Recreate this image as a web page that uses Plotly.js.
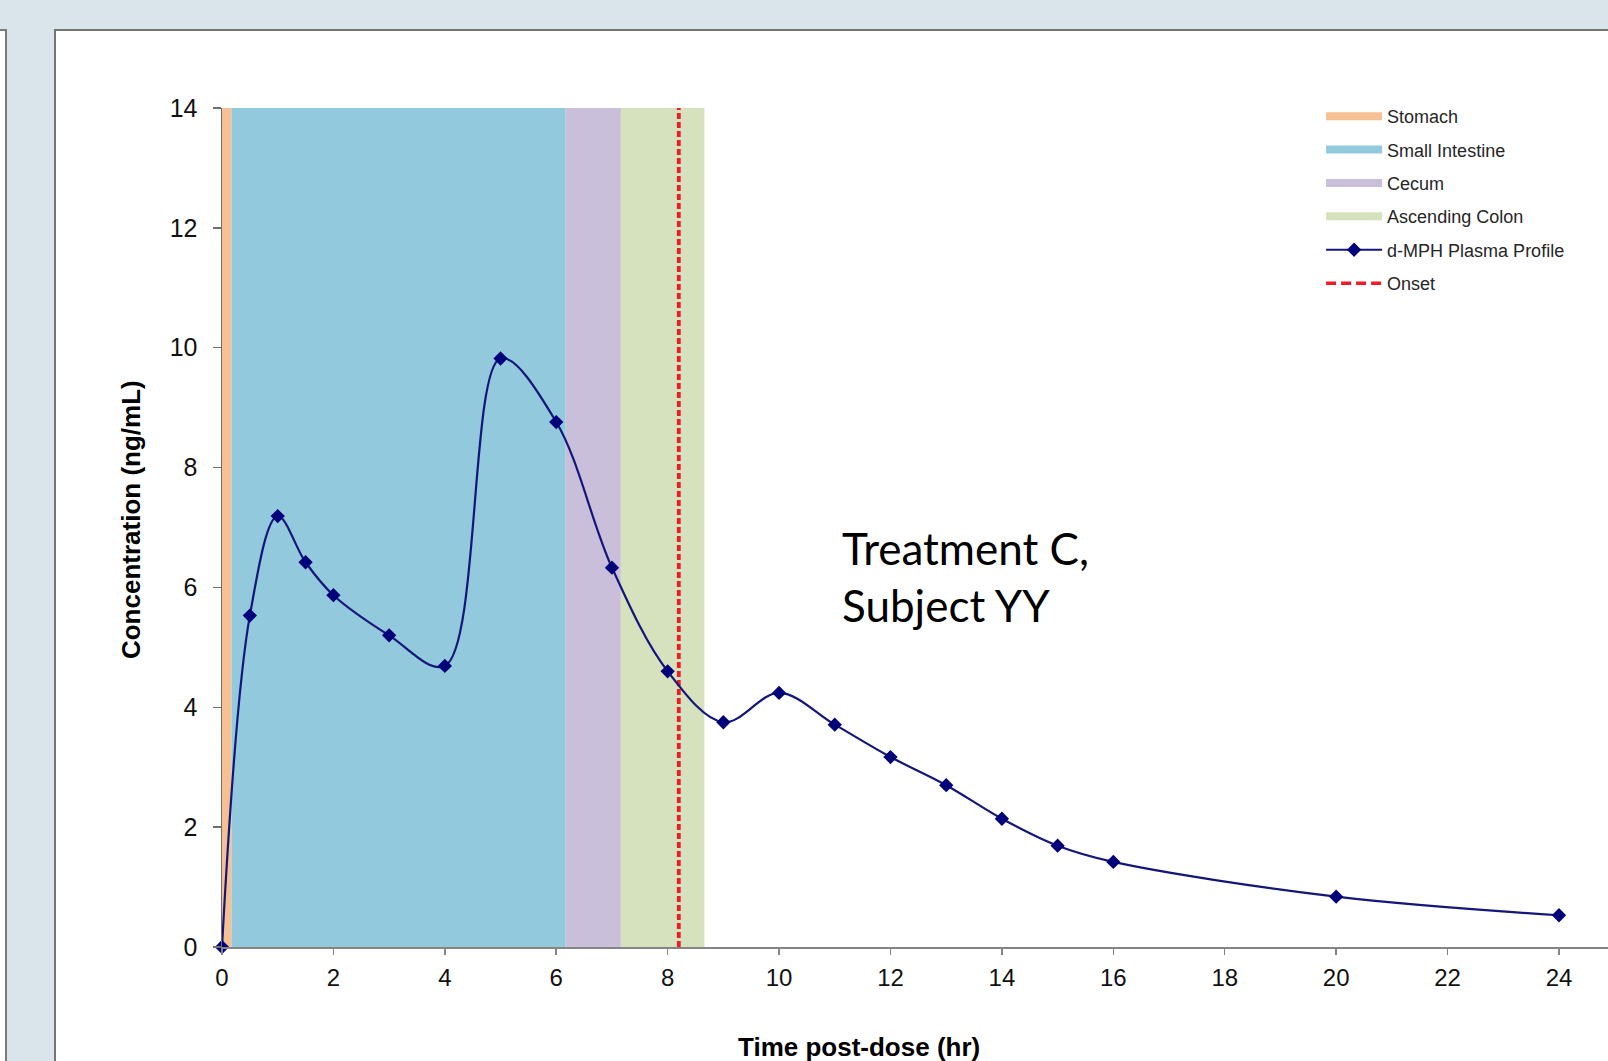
<!DOCTYPE html>
<html><head><meta charset="utf-8">
<script src="https://cdn.plot.ly/plotly-3.0.1.min.js"></script>
<style>
html,body{margin:0;padding:0;background:#d9e5eb;width:1608px;height:1061px;overflow:hidden;}
#leftStrip{position:absolute;left:-4px;top:29px;width:9px;height:1100px;background:#fff;border-top:2px solid #7a7a7a;border-right:2px solid #7a7a7a;}
#panel{position:absolute;left:54px;top:29px;width:1600px;height:1100px;background:#fff;border-top:2px solid #747474;border-left:2px solid #747474;}
#chart{position:absolute;left:0;top:0;width:1608px;height:1061px;}
</style></head><body>
<div id="leftStrip"></div><div id="panel"></div><div id="chart"></div>
<script>
// ---- data ----
const timeHr   = [0, 0.5, 1, 1.5, 2, 3, 4, 5, 6, 7, 8, 9, 10, 11, 12, 13, 14, 15, 16, 20, 24];
const concNgMl = [0, 5.53, 7.19, 6.42, 5.87, 5.20, 4.69, 9.82, 8.76, 6.33, 4.60, 3.75, 4.24, 3.71, 3.17, 2.70, 2.14, 1.69, 1.42, 0.84, 0.53];
const regionNames = ['Stomach', 'Small Intestine', 'Cecum', 'Ascending Colon'];
const regionStart = [0, 0.17, 6.17, 7.16];
const regionEnd   = [0.17, 6.17, 7.16, 8.66];
const onsetTime = [8.2];
const yTicks = [0, 2, 4, 6, 8, 10, 12, 14];
const xTicks = [0, 2, 4, 6, 8, 10, 12, 14, 16, 18, 20, 22, 24];
const noteLines = ['Treatment C,', 'Subject YY'];

// ---- styles ----
const regionColors = ['#f6c093', '#93c9dc', '#c9bfda', '#d6e2bd'];
const yTop = yTicks[yTicks.length - 1];
const baseFont = 'Liberation Sans, Arial, sans-serif';

const traces = [];
// region bands (no legend)
regionNames.forEach((n, i) => {
  traces.push({
    type: 'scatter', mode: 'lines', name: n, showlegend: false, hoverinfo: 'skip',
    legendgroup: 'band' + i,
    x: [regionStart[i], regionStart[i], regionEnd[i], regionEnd[i], regionStart[i]],
    y: [0, yTop, yTop, 0, 0],
    fill: 'toself', fillcolor: regionColors[i], line: {width: 0, color: regionColors[i]}
  });
});
// legend entries for regions
regionNames.forEach((n, i) => {
  traces.push({
    type: 'scatter', mode: 'lines', name: n, x: [null], y: [null],
    legendgroup: 'band' + i,
    line: {color: regionColors[i], width: 8}
  });
});
// onset line
traces.push({
  type: 'scatter', mode: 'lines', name: 'Onset', showlegend: false, legendgroup: 'onset',
  x: [onsetTime[0], onsetTime[0]], y: [0, yTop],
  line: {color: '#ee1c24', width: 3.8, dash: '6px,3px'}
});
// plasma profile
traces.push({
  type: 'scatter', mode: 'lines+markers', name: 'd-MPH Plasma Profile', legendgroup: 'profile',
  x: timeHr, y: concNgMl, cliponaxis: false,
  line: {color: '#14167a', width: 2.2, shape: 'spline', smoothing: 1},
  marker: {symbol: 'diamond', size: 11, color: '#00007a'}
});
// onset legend entry
traces.push({
  type: 'scatter', mode: 'lines', name: 'Onset', x: [null], y: [null], legendgroup: 'onset',
  line: {color: '#ee1c24', width: 3.5, dash: '10px,5px'}
});

const layout = {
  width: 1608, height: 1061,
  margin: {l: 222, r: 0, t: 108, b: 114},
  paper_bgcolor: 'rgba(0,0,0,0)', plot_bgcolor: 'rgba(0,0,0,0)',
  font: {family: baseFont, color: '#000'},
  showlegend: true,
  legend: {
    x: 0.793, y: 1.012, xanchor: 'left', yanchor: 'top',
    bgcolor: 'rgba(0,0,0,0)', borderwidth: 0,
    font: {family: baseFont, size: 18, color: '#262626'},
    itemwidth: 56, traceorder: 'grouped', tracegroupgap: 7
  },
  xaxis: {
    range: [0, 24.88], tickvals: xTicks, ticktext: xTicks.map(String),
    showgrid: false, zeroline: false, showline: true, linecolor: '#858585', linewidth: 2,
    ticks: 'outside', ticklen: 6, tickcolor: '#858585', tickwidth: 1.5,
    ticklabelstandoff: 2,
    tickfont: {family: baseFont, size: 24, color: '#111'}
  },
  yaxis: {
    range: [0, yTop], tickvals: yTicks, ticktext: yTicks.map(String),
    showgrid: false, zeroline: false, showline: true, linecolor: '#6e6e6e', linewidth: 1.5,
    ticks: 'outside', ticklen: 8, tickcolor: '#6e6e6e', tickwidth: 1.5,
    ticklabelstandoff: 10,
    tickfont: {family: baseFont, size: 25, color: '#111'}
  },
  annotations: [
    {xref: 'paper', yref: 'paper', x: 0.4596, y: -0.119, xanchor: 'center', yanchor: 'middle',
     text: '<b>Time post-dose (hr)</b>', showarrow: false, font: {family: baseFont, size: 26, color: '#000'}},
    {xref: 'paper', yref: 'paper', x: -0.0657, y: 0.510, xanchor: 'center', yanchor: 'middle', textangle: -90,
     text: '<b>Concentration (ng/mL)</b>', showarrow: false, font: {family: baseFont, size: 26, color: '#000'}},
    {xref: 'paper', yref: 'paper', x: 0.446, y: 0.442, xanchor: 'left', yanchor: 'middle', align: 'left',
     text: noteLines.join('<br>'), showarrow: false, font: {family: 'Lato, Carlito, sans-serif', size: 44, color: '#000'}}
  ]
};

Plotly.newPlot('chart', traces, layout, {displayModeBar: false, staticPlot: true});
</script>
</body></html>
